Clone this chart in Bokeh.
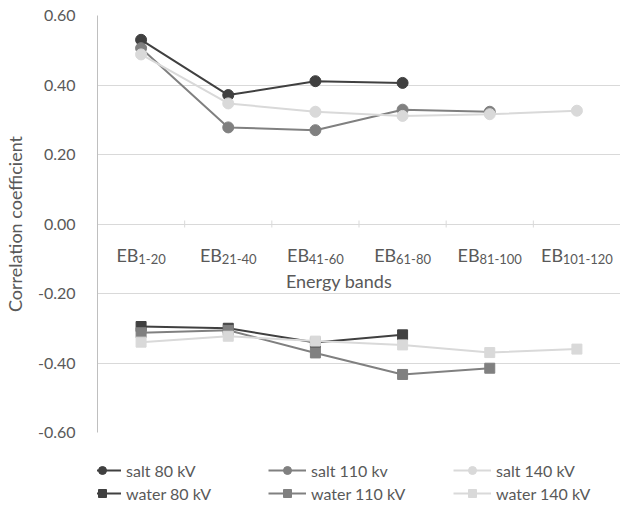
import numpy as np
from bokeh.plotting import figure
from bokeh.layouts import column
from bokeh.models import (ColumnDataSource, Range1d, Legend, LegendItem,
                          FixedTicker, NumeralTickFormatter)
from bokeh.core.properties import value
from bokeh.embed import file_html
from bokeh.resources import INLINE

# ---------------- data ----------------
cat_main = ["EB", "EB", "EB", "EB", "EB", "EB"]
cat_sub = ["1-20", "21-40", "41-60", "61-80", "81-100", "101-120"]

salt_80 = [0.530, 0.371, 0.411, 0.406]
salt_110 = [0.506, 0.278, 0.270, 0.329, 0.323]
salt_140 = [0.488, 0.347, 0.323, 0.311, 0.316, 0.326]
water_80 = [-0.295, -0.300, -0.341, -0.319]
water_110 = [-0.313, -0.306, -0.371, -0.433, -0.415]
water_140 = [-0.340, -0.323, -0.337, -0.348, -0.370, -0.360]

y_ticks = [-0.6, -0.4, -0.2, 0.0, 0.2, 0.4, 0.6]

x_title = "Energy bands"
y_title = "Correlation coefficient"

series = [
    ("salt 80 kV", salt_80, "#404040", "circle"),
    ("salt 110 kv", salt_110, "#808080", "circle"),
    ("salt 140 kV", salt_140, "#d9d9d9", "circle"),
    ("water 80 kV", water_80, "#404040", "square"),
    ("water 110 kV", water_110, "#808080", "square"),
    ("water 140 kV", water_140, "#d9d9d9", "square"),
]

FONT = "Lato"
TXT = "#595959"
GRID = "#d9d9d9"

n_cat = len(cat_sub)
p = figure(width=620, height=445, output_backend="svg", toolbar_location=None,
           x_range=Range1d(-0.5, n_cat - 0.5), y_range=Range1d(min(y_ticks), max(y_ticks)),
           x_axis_location=None, min_border_left=91, min_border_right=0,
           min_border_top=15, min_border_bottom=13)
p.outline_line_color = None
p.background_fill_color = "white"

# y axis
ya = p.yaxis[0]
ya.ticker = FixedTicker(ticks=y_ticks)
ya.formatter = NumeralTickFormatter(format="0.00")
ya.major_tick_line_color = None
ya.minor_tick_line_color = None
ya.axis_line_color = "#bfbfbf"
ya.major_label_standoff = 16
ya.major_label_text_font = FONT
ya.major_label_text_font_size = "16px"
ya.major_label_text_color = TXT
ya.axis_label = y_title
ya.axis_label_text_font = FONT
ya.axis_label_text_font_size = "18px"
ya.axis_label_text_font_style = "normal"
ya.axis_label_text_color = TXT
ya.axis_label_standoff = 9

p.xgrid.visible = False
p.ygrid.ticker = FixedTicker(ticks=y_ticks)
p.ygrid.grid_line_color = GRID
p.ygrid.grid_line_width = 1

# category tick marks on the zero line
bounds = np.arange(n_cat - 1) + 0.5
p.scatter(x=bounds, y=np.zeros(len(bounds)), marker="dash", angle=np.pi / 2,
          size=7, line_color=GRID, line_width=1)

# category labels (EB + subscript)
MAIN_FS, SUB_FS = 18, 13
W = {"E": 0.58, "B": 0.63, "-": 0.37}
def tw(s, fs):
    return sum(W.get(c, 0.58) for c in s) * fs
main_w = [tw(m, MAIN_FS) for m in cat_main]
sub_w = [tw(s, SUB_FS) for s in cat_sub]
starts = [-(a + b) / 2 for a, b in zip(main_w, sub_w)]
idx = list(range(n_cat))
lab_src = ColumnDataSource(dict(x=idx, y=[0.0] * n_cat, main=cat_main, sub=cat_sub,
                                xo_main=starts,
                                xo_sub=[s + a for s, a in zip(starts, main_w)]))
p.text(x="x", y="y", text="main", source=lab_src, x_offset="xo_main", y_offset=31,
       text_font=value(FONT), text_font_size=f"{MAIN_FS}px", text_color=TXT,
       text_align="left", text_baseline="alphabetic")
p.text(x="x", y="y", text="sub", source=lab_src, x_offset="xo_sub", y_offset=35,
       text_font=value(FONT), text_font_size=f"{SUB_FS}px", text_color=TXT,
       text_align="left", text_baseline="alphabetic")
p.text(x=[(n_cat - 1) / 2], y=[0.0], text=[x_title], x_offset=-20, y_offset=57,
       text_font=value(FONT), text_font_size="18px", text_color=TXT,
       text_align="center", text_baseline="alphabetic")

# legend strip (separate figure below the chart; its ranges show no data)
lg = figure(width=620, height=62, output_backend="svg", toolbar_location=None,
            x_range=Range1d(100, 101), y_range=Range1d(100, 101),
            x_axis_location=None, y_axis_location=None,
            min_border_left=0, min_border_right=0, min_border_top=0, min_border_bottom=0)
lg.outline_line_color = None
lg.xgrid.visible = False
lg.ygrid.visible = False

items = {}
for name, vals, col, mk in series:
    xs = list(range(len(vals)))
    size = 11 if mk == "circle" else 10
    p.line(xs, vals, line_color=col, line_width=2)
    p.scatter(xs, vals, marker=mk, size=size, fill_color=col, line_color=col)
    l2 = lg.line(xs, vals, line_color=col, line_width=2)
    s2 = lg.scatter(xs, vals, marker=mk, size=size, fill_color=col, line_color=col)
    items[name] = LegendItem(label=name, renderers=[l2, s2])

order = ["salt 80 kV", "water 80 kV", "salt 110 kv", "water 110 kV",
         "salt 140 kV", "water 140 kV"]
legend = Legend(items=[items[k] for k in order], ncols=3, orientation="vertical",
                location=(-14, 4), padding=0, margin=0, spacing=3,
                glyph_width=38, glyph_height=20, label_height=20,
                label_width=139, label_standoff=5,
                label_text_font=FONT, label_text_font_size="16px",
                label_text_color=TXT, border_line_color=None,
                background_fill_alpha=0)
lg.add_layout(legend, "center")

layout = column(p, lg, spacing=0)
open("out.html", "w").write(file_html(layout, INLINE))
